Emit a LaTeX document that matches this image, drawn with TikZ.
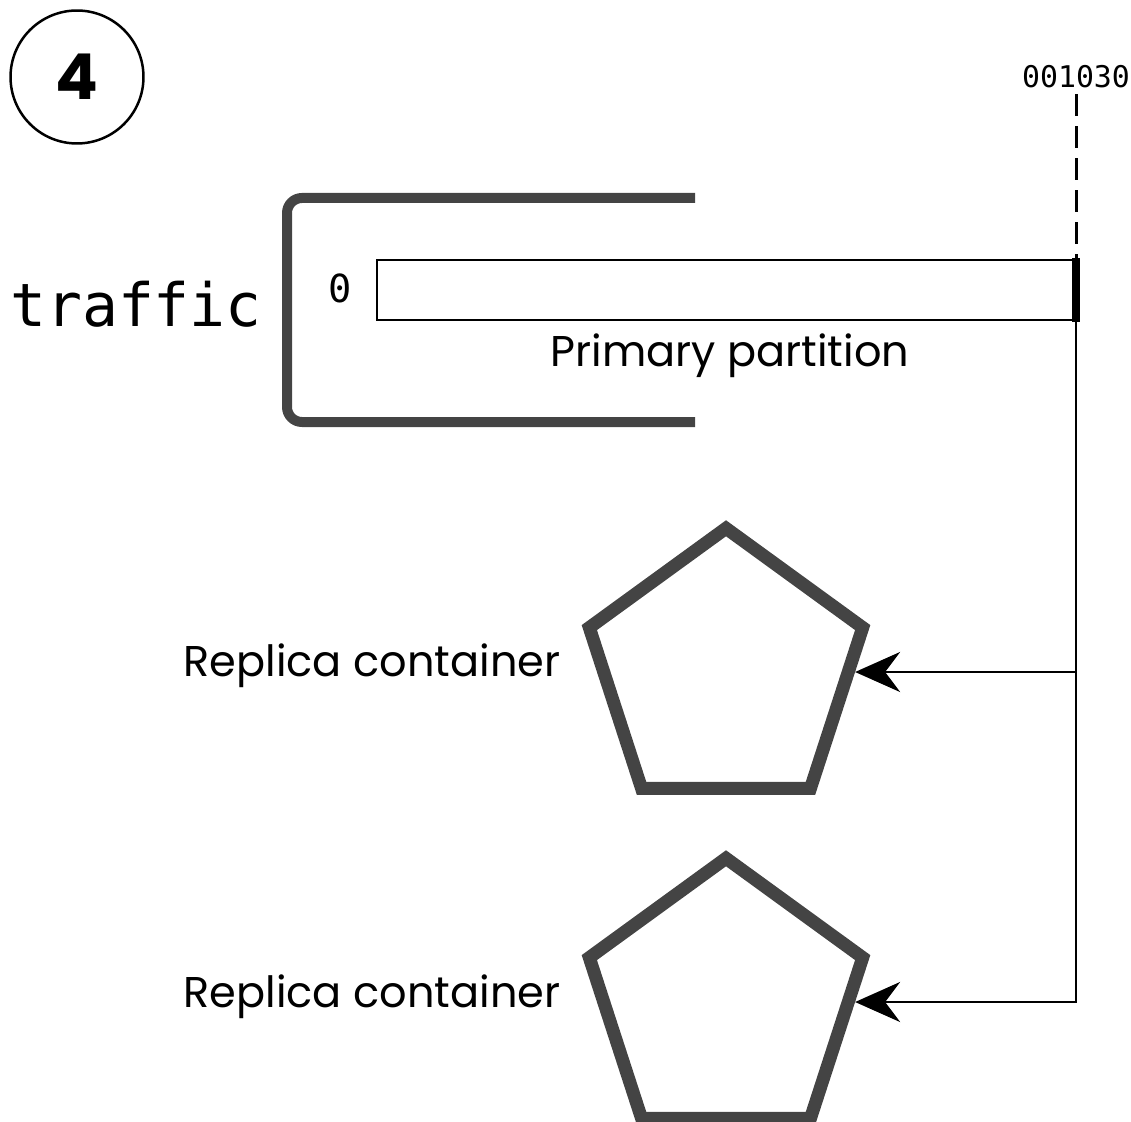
\documentclass[tikz,border=0pt]{standalone}
\usepackage{fontspec}
\setmainfont{Poppins}
\setmonofont{DejaVu Sans Mono}
\usetikzlibrary{positioning, arrows.meta, shapes.geometric}
\definecolor{darkgrey}{HTML}{444444}

\begin{document}
\begin{tikzpicture}[x=0.02cm, y=-0.02cm,
  replica/.style={draw=darkgrey, line width=0.26cm, regular polygon, regular polygon sides=5, minimum size=5.75cm, inner sep=0pt},
  lbl/.style={font=\fontsize{24.5}{28}\selectfont},
  code/.style={font=\ttfamily\fontsize{17}{20}\selectfont},
  arr/.style={-{Stealth[length=0.9cm, width=0.8cm, inset=0.3cm]}, line width=0.055cm}
]
\useasboundingbox (0,0) rectangle (1131,1121);

\node[draw, circle, line width=0.05cm, minimum size=2.66cm, font=\bfseries\fontsize{36}{40}\selectfont] (step) at (77,77) {4};

% topic bracket
\draw[darkgrey, line width=0.2cm, rounded corners=0.3cm] (695,198) -- (287,198) -- (287,422) -- (695,422);
\node[font=\ttfamily\fontsize{34}{40}\selectfont] (topic) at (136,304) {traffic};

% partition
\node[draw, line width=0.055cm, minimum width=13.98cm, minimum height=1.2cm, inner sep=0pt] (part) at (726.5,290) {};
\node[fill=black, minimum width=0.16cm, minimum height=1.28cm, inner sep=0pt] (bar) at (1076,290) {};
\node[font=\ttfamily\fontsize{22}{26}\selectfont] (start) at (340,288) {0};
\node[lbl] (partlbl) at (730,356) {Primary partition};
\node[code] (offset) at (1076,77) {001030};
\draw[line width=0.06cm, dash pattern=on 0.44cm off 0.2cm] (offset) -- (bar.north);

% replicas
\node[replica] (rep1) at (726,672) {};
\node[replica] (rep2) at (726,1002) {};
\node[lbl] (rep1lbl) at (372,666) {Replica container};
\node[lbl] (rep2lbl) at (372,997) {Replica container};

\draw[arr] (bar.south) |- (rep2);
\draw[arr] (bar.south |- rep1) -- (rep1);

\end{tikzpicture}
\end{document}
